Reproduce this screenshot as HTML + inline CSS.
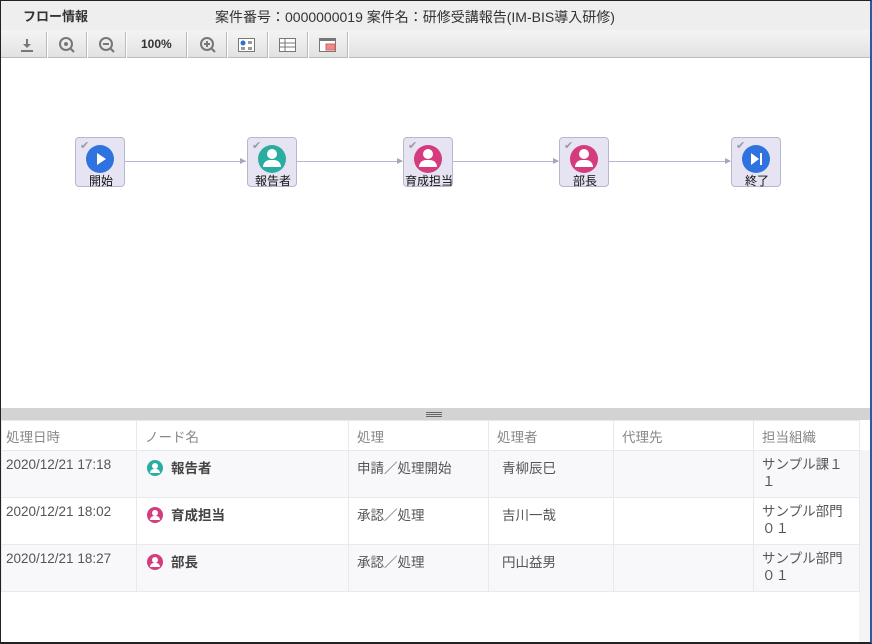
<!DOCTYPE html>
<html><head><meta charset="utf-8"><style>
*{margin:0;padding:0;box-sizing:border-box}
body{width:872px;height:644px;position:relative;overflow:hidden;background:#fff;font-family:"Liberation Sans","Noto Sans CJK JP",sans-serif;}
.a{position:absolute}
#frame{left:0;top:0;width:872px;height:644px;border:1px solid #222;border-right:2px solid #2a5aa0;border-bottom:2px solid #222;z-index:10;pointer-events:none}
#title{left:0;top:0;width:872px;height:30px;background:#eeeeee;font-size:14px;color:#333}
#tb{left:0;top:30px;width:872px;height:28px;background:linear-gradient(#f4f4f4,#e2e2e2);border-bottom:1px solid #bbb}
.sep{top:32px;width:2px;height:26px;border-left:1px solid #bbb;border-right:1px solid #fff}
.node{width:50px;height:50px;border:1px solid #b9b7d0;border-radius:4px;background:#e6e4f2;top:137px}
.node .chk{position:absolute;left:4px;top:1px;color:#9a98ad;font-size:11px}
.node .c{position:absolute;left:10px;top:7px;width:28px;height:28px;border-radius:50%}
.node .l{position:absolute;left:-10px;width:70px;top:34px;text-align:center;font-size:12px;color:#111}
.line{top:161px;height:1px;background:#b8b6cc}
.arr{top:158px;width:0;height:0;border-top:3.5px solid transparent;border-bottom:3.5px solid transparent;border-left:6px solid #a8a6bc}
table{position:absolute;left:1px;top:420px;border-collapse:collapse;font-size:13.5px;color:#555}
td{border:1px solid #e8e8f0;vertical-align:top;padding:6px 4px 0 4px}
tr.h td{height:30px;color:#888;padding-top:5px}
tr.r td{height:47px}
tr.g td{background:#f8f8fa}
td.o{padding-left:8px;line-height:17px;padding-top:5px}
.ni{display:inline-block;width:16px;height:16px;border-radius:50%;vertical-align:-3px;margin:0 8px 0 6px;position:relative}
.ni::after{content:"";position:absolute;left:5px;top:3px;width:6px;height:6px;border-radius:50%;background:#fff}
.ni::before{content:"";position:absolute;left:3px;top:9px;width:10px;height:4px;border-radius:4px 4px 0 0;background:#fff}
b{color:#444}
</style></head><body>
<div class="a" id="title">
 <span class="a" style="left:23px;top:6px;font-weight:bold;font-size:13px">フロー情報</span>
 <span class="a" style="left:215px;top:7px">案件番号：0000000019 案件名：研修受講報告(IM-BIS導入研修)</span>
</div>
<div class="a" id="tb"></div>
<div class="a sep" style="left:46px"></div><div class="a sep" style="left:86px"></div><div class="a sep" style="left:125px"></div><div class="a sep" style="left:186px"></div><div class="a sep" style="left:226px"></div><div class="a sep" style="left:267px"></div><div class="a sep" style="left:307px"></div><div class="a sep" style="left:347px"></div>
<svg class="a" style="left:18px;top:36px" width="18" height="18"><line x1="9" y1="3" x2="9" y2="11" stroke="#777" stroke-width="2"/><path d="M5 8 L9 12 L13 8 Z" fill="#777"/><rect x="3" y="14" width="12" height="2" fill="#777"/></svg>
<svg class="a" style="left:57px;top:36px" width="20" height="18"><circle cx="9" cy="8" r="6" fill="none" stroke="#777" stroke-width="2"/><circle cx="9" cy="8" r="2" fill="#777"/><line x1="13" y1="12" x2="17" y2="16" stroke="#777" stroke-width="2"/></svg>
<svg class="a" style="left:97px;top:36px" width="20" height="18"><circle cx="9" cy="8" r="6" fill="none" stroke="#777" stroke-width="2"/><line x1="6" y1="8" x2="12" y2="8" stroke="#777" stroke-width="2"/><line x1="13" y1="12" x2="17" y2="16" stroke="#777" stroke-width="2"/></svg>
<div class="a" style="left:141px;top:37px;font-size:12px;font-weight:bold;color:#333">100%</div>
<svg class="a" style="left:198px;top:36px" width="20" height="18"><circle cx="9" cy="8" r="6" fill="none" stroke="#777" stroke-width="2"/><line x1="6" y1="8" x2="12" y2="8" stroke="#777" stroke-width="2"/><line x1="9" y1="5" x2="9" y2="11" stroke="#777" stroke-width="2"/><line x1="13" y1="12" x2="17" y2="16" stroke="#777" stroke-width="2"/></svg>
<svg class="a" style="left:238px;top:38px" width="18" height="14"><rect x="0.5" y="0.5" width="16" height="13" fill="#fff" stroke="#777"/><circle cx="5" cy="5" r="2.5" fill="#2a6fdb"/><rect x="10" y="3" width="4" height="3" fill="#999"/><rect x="3" y="9" width="4" height="3" fill="#999"/><rect x="10" y="9" width="4" height="3" fill="#999"/></svg>
<svg class="a" style="left:279px;top:38px" width="18" height="14"><rect x="0.5" y="0.5" width="16" height="13" fill="#fff" stroke="#777"/><line x1="0" y1="5" x2="17" y2="5" stroke="#777"/><line x1="0" y1="9" x2="17" y2="9" stroke="#777"/><line x1="6" y1="0" x2="6" y2="14" stroke="#777"/></svg>
<svg class="a" style="left:319px;top:38px" width="18" height="14"><rect x="0.5" y="0.5" width="16" height="13" fill="#fff" stroke="#777"/><line x1="0" y1="2" x2="17" y2="2" stroke="#777" stroke-width="2"/><rect x="7" y="6" width="9" height="6" fill="#f08a8a" stroke="#c66"/></svg>

<div class="a line" style="left:125px;width:121px"></div><div class="a arr" style="left:240px"></div>
<div class="a line" style="left:297px;width:105px"></div><div class="a arr" style="left:397px"></div>
<div class="a line" style="left:453px;width:105px"></div><div class="a arr" style="left:553px"></div>
<div class="a line" style="left:609px;width:121px"></div><div class="a arr" style="left:725px"></div>

<div class="a node" style="left:75px"><span class="chk">✔</span><div class="c" style="background:#2f73e0"><div class="a" style="left:11px;top:8px;border-top:6px solid transparent;border-bottom:6px solid transparent;border-left:9px solid #fff"></div></div><div class="l">開始</div></div>
<div class="a node" style="left:247px"><span class="chk">✔</span><div class="c" style="background:#2aada0"></div><div class="l">報告者</div></div>
<div class="a node" style="left:403px"><span class="chk">✔</span><div class="c" style="background:#d43c7e"></div><div class="l">育成担当</div></div>
<div class="a node" style="left:559px"><span class="chk">✔</span><div class="c" style="background:#d43c7e"></div><div class="l">部長</div></div>
<div class="a node" style="left:731px"><span class="chk">✔</span><div class="c" style="background:#2f73e0"><div class="a" style="left:9px;top:8px;border-top:6px solid transparent;border-bottom:6px solid transparent;border-left:8px solid #fff"></div><div class="a" style="left:18px;top:8px;width:2px;height:12px;background:#fff"></div></div><div class="l">終了</div></div>
<div class="a" style="left:267px;top:149px;width:10px;height:10px;border-radius:50%;background:#fff"></div><div class="a" style="left:263px;top:160px;width:18px;height:7px;border-radius:7px 7px 0 0;background:#fff"></div>
<div class="a" style="left:423px;top:149px;width:10px;height:10px;border-radius:50%;background:#fff"></div><div class="a" style="left:419px;top:160px;width:18px;height:7px;border-radius:7px 7px 0 0;background:#fff"></div>
<div class="a" style="left:579px;top:149px;width:10px;height:10px;border-radius:50%;background:#fff"></div><div class="a" style="left:575px;top:160px;width:18px;height:7px;border-radius:7px 7px 0 0;background:#fff"></div>

<div class="a" style="left:0;top:408px;width:872px;height:12px;background:#d3d3d3"></div>
<div class="a" style="left:426px;top:412px;width:16px;height:5px;border-top:1px solid #666;border-bottom:1px solid #666"><div style="margin-top:1px;height:1px;background:#666"></div></div>
<div class="a" style="left:859px;top:450px;width:12px;height:194px;background:#f4f4f6"></div>
<table>
<colgroup><col style="width:135px"><col style="width:212px"><col style="width:140px"><col style="width:125px"><col style="width:140px"><col style="width:106px"></colgroup>
<tr class="h"><td>処理日時</td><td style="padding-left:8px">ノード名</td><td style="padding-left:8px">処理</td><td style="padding-left:8px">処理者</td><td style="padding-left:8px">代理先</td><td style="padding-left:8px">担当組織</td></tr>
<tr class="r g"><td>2020/12/21 17:18</td><td><span class="ni" style="background:#2aada0"></span><b>報告者</b></td><td style="padding-left:8px">申請／処理開始</td><td style="padding-left:13px">青柳辰巳</td><td></td><td class="o">サンプル課１<br>１</td></tr>
<tr class="r"><td>2020/12/21 18:02</td><td><span class="ni" style="background:#d43c7e"></span><b>育成担当</b></td><td style="padding-left:8px">承認／処理</td><td style="padding-left:13px">吉川一哉</td><td></td><td class="o">サンプル部門<br>０１</td></tr>
<tr class="r g"><td>2020/12/21 18:27</td><td><span class="ni" style="background:#d43c7e"></span><b>部長</b></td><td style="padding-left:8px">承認／処理</td><td style="padding-left:13px">円山益男</td><td></td><td class="o">サンプル部門<br>０１</td></tr>
</table>
<div class="a" id="frame"></div>
</body></html>
